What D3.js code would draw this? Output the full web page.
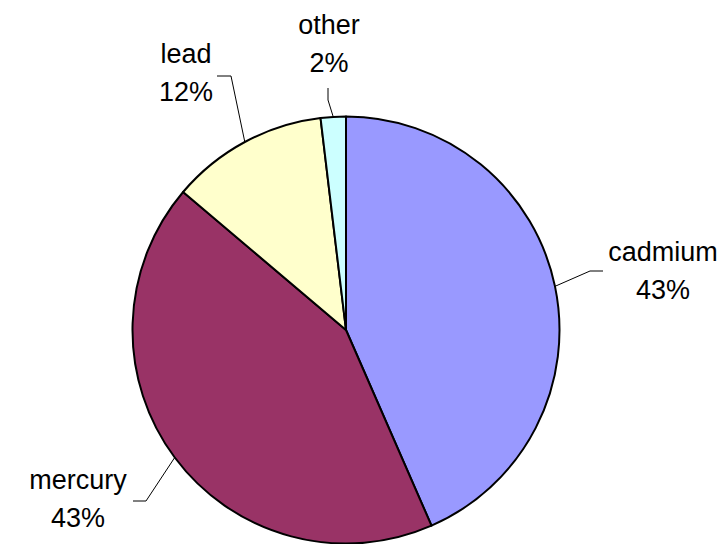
<!DOCTYPE html>
<html><head><meta charset="utf-8">
<script src="https://cdn.jsdelivr.net/npm/d3@7"></script>
<style>html,body{margin:0;padding:0;background:#fff;}</style>
</head><body>
<script>
const categories = ["cadmium", "mercury", "lead", "other"];
const values = [43.4, 42.7, 11.9, 1.9];
const colors = ["#9999FF", "#993366", "#FFFFCC", "#CCFFFF"];

const W = 727, H = 544;
const cx = 346, cy = 330, R = 213.5;
const svg = d3.select("body").append("svg").attr("width", W).attr("height", H);
const g = svg.append("g").attr("transform", `translate(${cx},${cy})`);

const pie = d3.pie().sort(null).value(d => d.v);
const arcs = pie(categories.map((c, i) => ({c, v: values[i], col: colors[i]})));
const arc = d3.arc().innerRadius(0).outerRadius(R);

g.selectAll("path.slice").data(arcs).enter().append("path")
  .attr("class", "slice")
  .attr("d", arc)
  .attr("fill", d => d.data.col)
  .attr("stroke", "#000").attr("stroke-width", 2).attr("stroke-linejoin", "round");

// label layout (absolute page coords): text center x, first baseline, leader elbow points
const layout = {
  cadmium: {tx: 663, ty: 261, p1: [603, 271], p2: [590, 271]},
  mercury: {tx: 78, ty: 489, p1: [133, 501], p2: [146, 501]},
  lead:    {tx: 186, ty: 63, p1: [217, 76], p2: [231, 76]},
  other:   {tx: 329, ty: 34, p1: [328, 88], p2: [328, 100]}
};
const total = d3.sum(values);
const fmt = v => Math.round(v / total * 100) + "%";

arcs.forEach(d => {
  const L = layout[d.data.c];
  const a = (d.startAngle + d.endAngle) / 2;
  const ex = cx + R * Math.sin(a), ey = cy - R * Math.cos(a);
  svg.append("polyline")
    .attr("points", [L.p1, L.p2, [ex, ey]].map(p => p.join(",")).join(" "))
    .attr("fill", "none").attr("stroke", "#000").attr("stroke-width", 1);
  const t = svg.append("text")
    .attr("text-anchor", "middle")
    .attr("font-family", "'Liberation Sans', Arial, sans-serif")
    .attr("font-size", 27).attr("fill", "#000");
  t.append("tspan").attr("x", L.tx).attr("y", L.ty).text(d.data.c);
  t.append("tspan").attr("x", L.tx).attr("y", L.ty + 38).text(fmt(d.data.v));
});
</script>
</body></html>
